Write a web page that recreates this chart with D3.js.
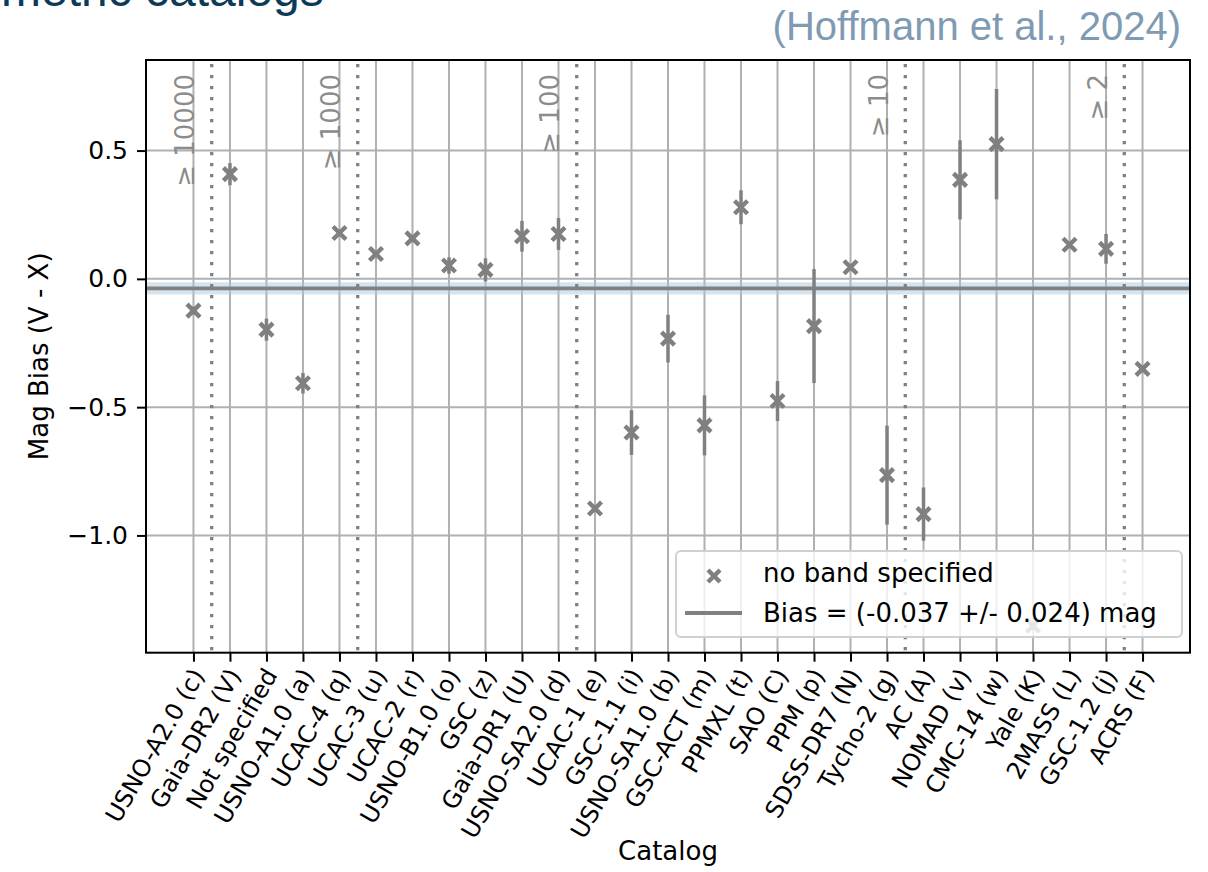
<!DOCTYPE html>
<html>
<head>
<meta charset="utf-8">
<style>
  body { margin: 0; background: #fff; }
  svg { display: block; }
  .tick text { font-family: "DejaVu Sans", sans-serif; font-size: 25px; fill: #000; }
  .x-ticks .tick text { font-size: 24px; }
  .axis-title { font-family: "DejaVu Sans", sans-serif; font-size: 26px; fill: #000; }
</style>
</head>
<body>
<svg width="1208" height="872"></svg>
<script src="https://d3js.org/d3.v7.min.js"></script>
<script>

// catalogs along the x axis
var catalogs = ["USNO-A2.0 (c)", "Gaia-DR2 (V)", "Not specified", "USNO-A1.0 (a)", "UCAC-4 (q)",
  "UCAC-3 (u)", "UCAC-2 (r)", "USNO-B1.0 (o)", "GSC (z)", "Gaia-DR1 (U)", "USNO-SA2.0 (d)",
  "UCAC-1 (e)", "GSC-1.1 (i)", "USNO-SA1.0 (b)", "GSC-ACT (m)", "PPMXL (t)", "SAO (C)",
  "PPM (p)", "SDSS-DR7 (N)", "Tycho-2 (g)", "AC (A)", "NOMAD (v)", "CMC-14 (w)", "Yale (K)",
  "2MASS (L)", "GSC-1.2 (j)", "ACRS (F)"];

// mag bias (V - X) and its uncertainty per catalog
var bias = [-0.124, 0.408, -0.198, -0.407, 0.179, 0.097, 0.158, 0.052, 0.035, 0.166, 0.175,
  -0.895, -0.599, -0.233, -0.571, 0.279, -0.476, -0.184, 0.045, -0.765, -0.917, 0.386, 0.525,
  -1.352, 0.133, 0.117, -0.351];
var biasErr = [0.015, 0.043, 0.043, 0.04, 0.01, 0.01, 0.012, 0.032, 0.045, 0.06, 0.062,
  0.008, 0.087, 0.093, 0.117, 0.066, 0.078, 0.222, 0.012, 0.193, 0.104, 0.154, 0.215,
  0.008, 0.01, 0.058, 0.008];

// group boundaries (number of observations)
var dividers = [0.5, 4.5, 10.5, 19.5, 25.5];
var dividerLabels = ["\u2265 10000", "\u2265 1000", "\u2265 100", "\u2265 10", "\u2265 2"];

var yTicks = [0.5, 0.0, -0.5, -1.0];
var meanBias = -0.037, meanBiasErr = 0.024;

var svg = d3.select("svg");
var pl = 146, pr = 1190, pt = 60, pb = 652.7;

var x = d3.scaleLinear().domain([-1.3, catalogs.length - 1 + 1.3]).range([pl, pr]);
var y = d3.scaleLinear().domain([-1.457, 0.853]).range([pb, pt]);

var grey = "#808080";

// header texts (title cut at the top edge of the picture)
svg.append("text")
    .attr("x", 1).attr("y", 6)
    .attr("font-family", "Liberation Sans, Arial, sans-serif")
    .attr("font-size", 48)
    .attr("fill", "#0d3a56")
    .text("metric catalogs");

svg.append("text")
    .attr("x", 1181).attr("y", 40)
    .attr("text-anchor", "end")
    .attr("font-family", "Liberation Sans, Arial, sans-serif")
    .attr("font-size", 40)
    .attr("fill", "#7f9bb3")
    .text("(Hoffmann et al., 2024)");

var g = svg.append("g");

// grid
g.append("g").selectAll("line").data(d3.range(catalogs.length)).join("line")
    .attr("x1", function(d) { return x(d); }).attr("x2", function(d) { return x(d); })
    .attr("y1", pt).attr("y2", pb)
    .attr("stroke", "#b0b0b0").attr("stroke-width", 2);
g.append("g").selectAll("line").data(yTicks).join("line")
    .attr("x1", pl).attr("x2", pr)
    .attr("y1", function(d) { return y(d); }).attr("y2", function(d) { return y(d); })
    .attr("stroke", "#b0b0b0").attr("stroke-width", 2);

// mean bias band + line
g.append("rect")
    .attr("x", pl).attr("width", pr - pl)
    .attr("y", y(meanBias + meanBiasErr))
    .attr("height", y(meanBias - meanBiasErr) - y(meanBias + meanBiasErr))
    .attr("fill", "#a9cce3").attr("opacity", 0.5);
g.append("line")
    .attr("x1", pl).attr("x2", pr)
    .attr("y1", y(meanBias)).attr("y2", y(meanBias))
    .attr("stroke", grey).attr("stroke-width", 3.8);

// dotted group dividers
g.append("g").selectAll("line").data(dividers).join("line")
    .attr("x1", function(d) { return x(d); }).attr("x2", function(d) { return x(d); })
    .attr("y1", pt + 4).attr("y2", pb)
    .attr("stroke", grey).attr("stroke-width", 3.3)
    .attr("stroke-dasharray", "3.3,7.7");

g.append("g").selectAll("text").data(dividers).join("text")
    .attr("transform", function(d) { return "translate(" + (x(d - 0.5) + 1) + "," + (pt + 14) + ") rotate(-90)"; })
    .attr("text-anchor", "end")
    .attr("font-family", "DejaVu Sans, sans-serif")
    .attr("font-size", 26)
    .attr("fill", "#8c8c8c")
    .text(function(d, i) { return dividerLabels[i]; });

// error bars
var pts = catalogs.map(function(c, i) { return {i: i, v: bias[i], e: biasErr[i]}; });
g.append("g").selectAll("line").data(pts).join("line")
    .attr("x1", function(d) { return x(d.i); }).attr("x2", function(d) { return x(d.i); })
    .attr("y1", function(d) { return y(d.v + d.e); }).attr("y2", function(d) { return y(d.v - d.e); })
    .attr("stroke", grey).attr("stroke-width", 3.5);

// x markers
var ms = 6.5;
g.append("g").selectAll("path").data(pts).join("path")
    .attr("d", function(d) {
      var cx = x(d.i), cy = y(d.v);
      return "M" + (cx - ms) + "," + (cy - ms) + "L" + (cx + ms) + "," + (cy + ms) +
             "M" + (cx - ms) + "," + (cy + ms) + "L" + (cx + ms) + "," + (cy - ms);
    })
    .attr("stroke", grey).attr("stroke-width", 4.4).attr("fill", "none");

// axes
var yAxis = svg.append("g")
    .attr("transform", "translate(" + pl + ",0)")
    .call(d3.axisLeft(y).tickValues(yTicks).tickSize(9).tickPadding(9)
      .tickFormat(function(d) { return d3.format(".1f")(d).replace("-", "\u2212"); }));
var xAxis = svg.append("g")
    .attr("class", "x-ticks")
    .attr("transform", "translate(0," + pb + ")")
    .call(d3.axisBottom(x).tickValues(d3.range(catalogs.length)).tickSize(9)
      .tickFormat(function(d) { return catalogs[d]; }));
[xAxis, yAxis].forEach(function(a) {
  a.select(".domain").remove();
  a.selectAll(".tick line").attr("stroke", "#000").attr("stroke-width", 2);
});
xAxis.selectAll(".tick text")
    .attr("y", 0).attr("dy", "0.35em")
    .attr("text-anchor", "end")
    .attr("transform", "translate(4,18) rotate(-60)");

// frame
svg.append("rect")
    .attr("x", pl).attr("y", pt).attr("width", pr - pl).attr("height", pb - pt)
    .attr("fill", "none").attr("stroke", "#000").attr("stroke-width", 2);

svg.append("text").attr("class", "axis-title")
    .attr("transform", "translate(48," + ((pt + pb) / 2) + ") rotate(-90)")
    .attr("text-anchor", "middle")
    .text("Mag Bias (V - X)");
svg.append("text").attr("class", "axis-title")
    .attr("x", (pl + pr) / 2).attr("y", 860)
    .attr("text-anchor", "middle")
    .text("Catalog");

// legend
var lg = svg.append("g").attr("transform", "translate(676,551)");
lg.append("rect")
    .attr("width", 506).attr("height", 86).attr("rx", 5)
    .attr("fill", "#fff").attr("fill-opacity", 0.8)
    .attr("stroke", "#d0d0d0").attr("stroke-width", 2);
lg.append("path")
    .attr("d", "M32,19L44,31M32,31L44,19")
    .attr("stroke", grey).attr("stroke-width", 4.4);
lg.append("line")
    .attr("x1", 9).attr("x2", 66).attr("y1", 62).attr("y2", 62)
    .attr("stroke", grey).attr("stroke-width", 3.8);
lg.append("text").attr("class", "axis-title").attr("x", 87).attr("y", 31)
    .text("no band specified");
lg.append("text").attr("class", "axis-title").attr("x", 87).attr("y", 71)
    .text("Bias = (-0.037 +/- 0.024) mag");
</script>
</body>
</html>
